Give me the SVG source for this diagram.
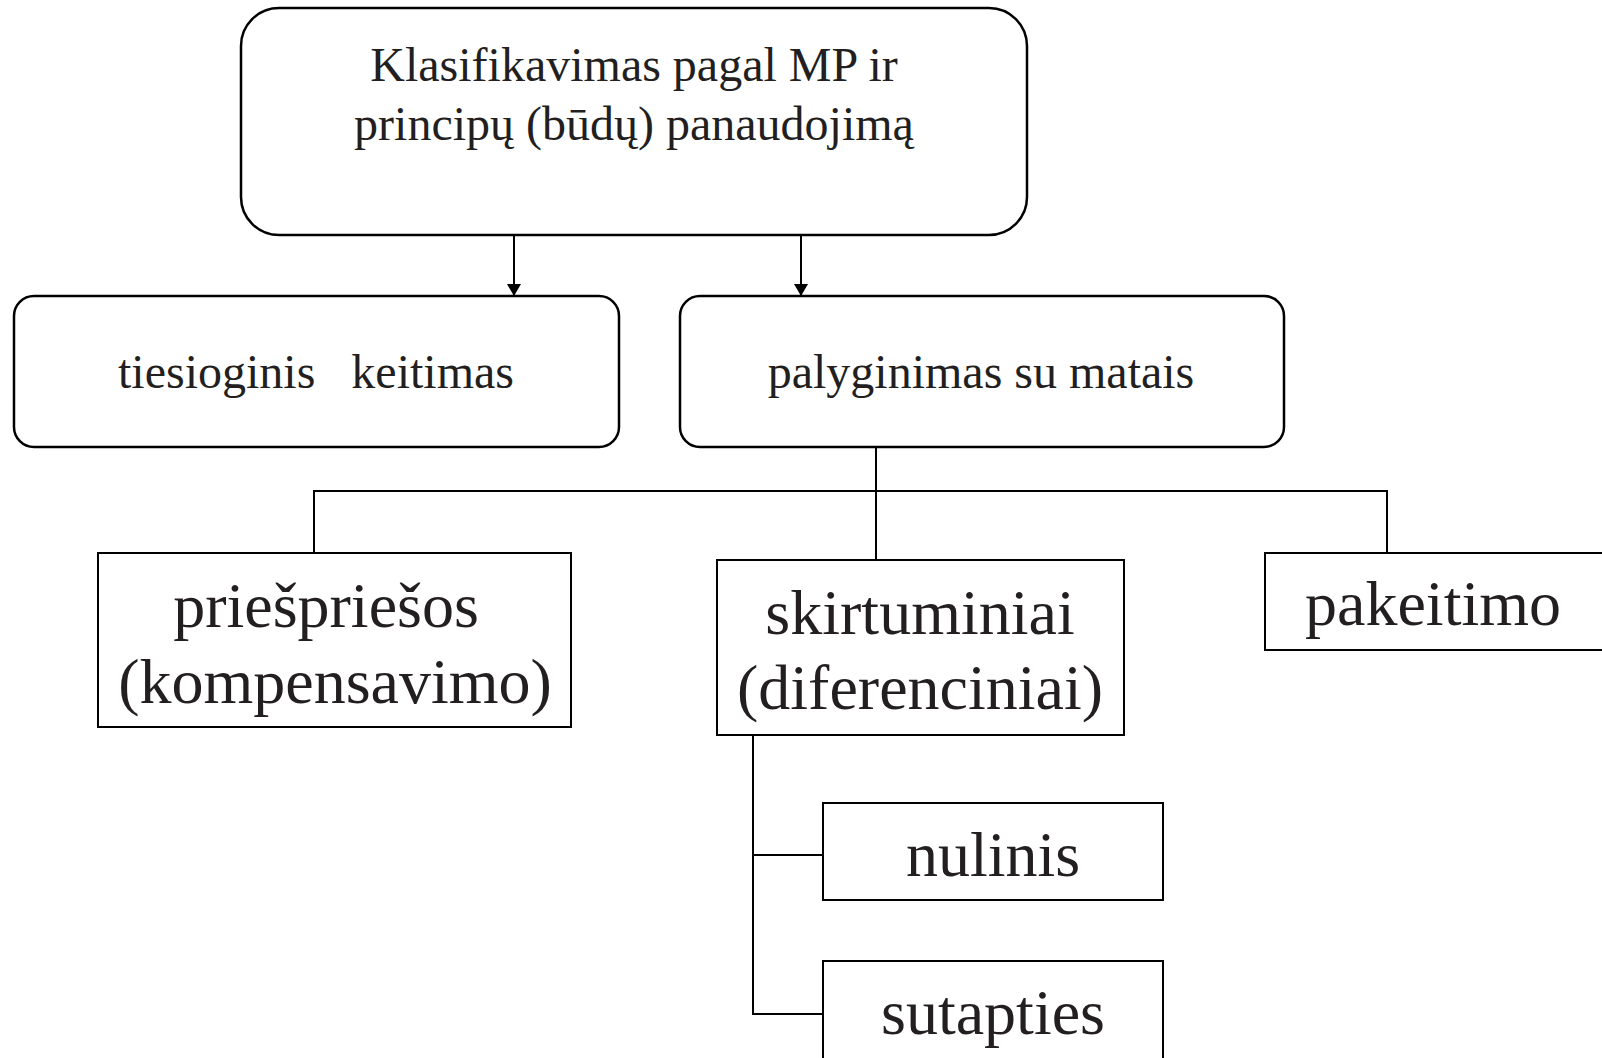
<svg xmlns="http://www.w3.org/2000/svg" width="1602" height="1058" viewBox="0 0 1602 1058">
<style>
  .rbox { fill: #fff; stroke: #000; stroke-width: 2.5; }
  .box { fill: #fff; stroke: #000; stroke-width: 2; }
  .conn { fill: none; stroke: #000; stroke-width: 2; }
  text { font-family: "Liberation Serif", "Times New Roman", serif; fill: #231f20; text-anchor: middle; }
  .t48 { font-size: 48px; }
  .t64 { font-size: 64px; }
</style>
<defs>
  <marker id="arr" viewBox="0 0 12 14" refX="12" refY="7" markerWidth="12" markerHeight="14" markerUnits="userSpaceOnUse" orient="auto">
    <path d="M0,0 L12,7 L0,14 Z" fill="#000"/>
  </marker>
</defs>
<g id="connectors">
  <line class="conn" x1="514" y1="235" x2="514" y2="296" marker-end="url(#arr)"/>
  <line class="conn" x1="801" y1="235" x2="801" y2="296" marker-end="url(#arr)"/>
  <line class="conn" x1="876" y1="447" x2="876" y2="560"/>
  <polyline class="conn" points="314,553 314,491 1387,491 1387,553"/>
  <polyline class="conn" points="753,730 753,1014 823,1014"/>
  <line class="conn" x1="753" y1="855" x2="823" y2="855"/>
</g>
<g id="node-root">
  <rect class="rbox" x="241" y="8" width="786" height="227" rx="38" ry="38"/>
  <text class="t48" x="634" y="81">Klasifikavimas pagal MP ir</text>
  <text class="t48" x="634" y="140">principų (būdų) panaudojimą</text>
</g>
<g id="node-tiesioginis">
  <rect class="rbox" x="14" y="296" width="605" height="151" rx="20" ry="20"/>
  <text class="t48" x="316" y="388" xml:space="preserve">tiesioginis   keitimas</text>
</g>
<g id="node-palyginimas">
  <rect class="rbox" x="680" y="296" width="604" height="151" rx="20" ry="20"/>
  <text class="t48" x="981" y="388">palyginimas su matais</text>
</g>
<g id="node-priespriesos">
  <rect class="box" x="98" y="553" width="473" height="174"/>
  <text class="t64" x="326" y="627">priešpriešos</text>
  <text class="t64" x="335" y="703">(kompensavimo)</text>
</g>
<g id="node-skirtuminiai">
  <rect class="box" x="717" y="560" width="407" height="175"/>
  <text class="t64" x="920" y="634">skirtuminiai</text>
  <text class="t64" x="920" y="709">(diferenciniai)</text>
</g>
<g id="node-pakeitimo">
  <rect class="box" x="1265" y="553" width="340" height="97"/>
  <text class="t64" x="1433" y="625">pakeitimo</text>
</g>
<g id="node-nulinis">
  <rect class="box" x="823" y="803" width="340" height="97"/>
  <text class="t64" x="993" y="876">nulinis</text>
</g>
<g id="node-sutapties">
  <rect class="box" x="823" y="961" width="340" height="110"/>
  <text class="t64" x="993" y="1034">sutapties</text>
</g>
</svg>
